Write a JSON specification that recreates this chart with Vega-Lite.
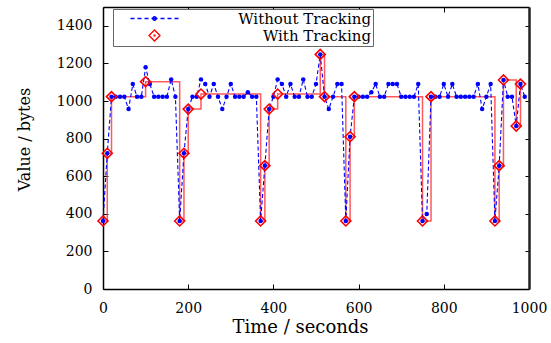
{
  "$schema": "https://vega.github.io/schema/vega-lite/v6.json",
  "width": 426,
  "height": 282,
  "autosize": "none",
  "padding": {"left": 103, "top": 7, "right": 22, "bottom": 54},
  "background": "white",
  "datasets": {
    "blue": [
      {"t":0,"v":362},{"t":10,"v":722},{"t":20,"v":1023},{"t":30,"v":1023},{"t":40,"v":1023},
      {"t":50,"v":1023},{"t":60,"v":957},{"t":70,"v":1090},{"t":80,"v":1023},{"t":90,"v":1023},
      {"t":100,"v":1179},{"t":110,"v":1090},{"t":120,"v":1023},{"t":130,"v":1023},{"t":140,"v":1023},
      {"t":150,"v":1023},{"t":160,"v":1115},{"t":170,"v":1023},{"t":180,"v":362},{"t":190,"v":722},
      {"t":200,"v":957},{"t":210,"v":1023},{"t":220,"v":1023},{"t":230,"v":1115},{"t":240,"v":1090},
      {"t":250,"v":1023},{"t":260,"v":1090},{"t":270,"v":1023},{"t":280,"v":957},{"t":290,"v":1023},
      {"t":300,"v":1090},{"t":310,"v":1023},{"t":320,"v":1023},{"t":330,"v":1023},{"t":340,"v":1046},
      {"t":350,"v":1023},{"t":360,"v":1023},{"t":370,"v":362},{"t":380,"v":656},{"t":390,"v":957},
      {"t":400,"v":1023},{"t":410,"v":1115},{"t":420,"v":1090},{"t":430,"v":1023},{"t":440,"v":1090},
      {"t":450,"v":1023},{"t":460,"v":1023},{"t":470,"v":1115},{"t":480,"v":1023},{"t":490,"v":1023},
      {"t":500,"v":1090},{"t":510,"v":1248},{"t":520,"v":1023},{"t":530,"v":957},{"t":540,"v":1023},
      {"t":550,"v":1090},{"t":560,"v":1090},{"t":570,"v":362},{"t":580,"v":810},{"t":590,"v":1023},
      {"t":600,"v":1023},{"t":610,"v":1023},{"t":620,"v":1023},{"t":630,"v":1046},{"t":640,"v":1090},
      {"t":650,"v":1023},{"t":660,"v":1023},{"t":670,"v":1090},{"t":680,"v":1090},{"t":690,"v":1090},
      {"t":700,"v":1023},{"t":710,"v":1023},{"t":720,"v":1023},{"t":730,"v":1023},{"t":740,"v":1090},
      {"t":750,"v":362},{"t":760,"v":399},{"t":770,"v":1023},{"t":780,"v":1023},{"t":790,"v":1023},
      {"t":800,"v":1090},{"t":810,"v":1023},{"t":820,"v":1090},{"t":830,"v":1023},{"t":840,"v":1023},
      {"t":850,"v":1023},{"t":860,"v":1023},{"t":870,"v":1023},{"t":880,"v":1090},{"t":890,"v":957},
      {"t":900,"v":1023},{"t":910,"v":1090},{"t":920,"v":362},{"t":930,"v":656},{"t":940,"v":1112},
      {"t":950,"v":1023},{"t":960,"v":1023},{"t":970,"v":867},{"t":980,"v":1090},{"t":990,"v":1023}
    ],
    "red": [
      {"t":0,"v":362,"s":"With Tracking"},{"t":10,"v":722,"s":"With Tracking"},{"t":20,"v":1023,"s":"With Tracking"},
      {"t":100,"v":1103,"s":"With Tracking"},{"t":180,"v":362,"s":"With Tracking"},{"t":190,"v":722,"s":"With Tracking"},
      {"t":200,"v":957,"s":"With Tracking"},{"t":230,"v":1037,"s":"With Tracking"},{"t":370,"v":362,"s":"With Tracking"},
      {"t":380,"v":656,"s":"With Tracking"},{"t":390,"v":957,"s":"With Tracking"},{"t":410,"v":1037,"s":"With Tracking"},
      {"t":510,"v":1248,"s":"With Tracking"},{"t":520,"v":1023,"s":"With Tracking"},{"t":570,"v":362,"s":"With Tracking"},
      {"t":580,"v":810,"s":"With Tracking"},{"t":590,"v":1023,"s":"With Tracking"},{"t":750,"v":362,"s":"With Tracking"},
      {"t":770,"v":1023,"s":"With Tracking"},{"t":920,"v":362,"s":"With Tracking"},{"t":930,"v":656,"s":"With Tracking"},
      {"t":940,"v":1112,"s":"With Tracking"},{"t":970,"v":867,"s":"With Tracking"},{"t":980,"v":1090,"s":"With Tracking"}
    ]
  },
  "layer": [
    {
      "data": {"name": "red"},
      "mark": {"type": "line", "interpolate": "step-after", "color": "#ff3030", "strokeWidth": 1.5, "opacity": 0.8},
      "encoding": {
        "x": {"field": "t", "type": "quantitative", "scale": {"domain": [0, 1000], "nice": false},
              "axis": {"orient": "bottom", "values": [0,200,400,600,800,1000], "format": "d", "labelFlush": false, "tickSize": -5, "labelPadding": 17,
                       "domainWidth": 1.5, "title": "Time / seconds", "titleFontSize": 18, "titleX": 197, "titleY": 43,
                       "titleBaseline": "alphabetic", "titleAlign": "center"}},
        "y": {"field": "v", "type": "quantitative", "scale": {"domain": [0, 1500], "nice": false},
              "axis": {"orient": "left", "values": [0,200,400,600,800,1000,1200,1400], "format": "d", "labelFlush": false, "tickSize": -5, "labelPadding": 16,
                       "domainWidth": 1.5, "title": "Value / bytes", "titleAngle": 270, "titleX": -79, "titleY": 132,
                       "titleBaseline": "middle", "titleAlign": "center"}}
      }
    },
    {
      "data": {"name": "blue"},
      "mark": {"type": "line", "color": "#0000ff", "strokeWidth": 1.1, "strokeDash": [4, 2.5]},
      "encoding": {
        "x": {"field": "t", "type": "quantitative",
              "axis": {"orient": "top", "values": [0,200,400,600,800,1000], "tickSize": -5, "labels": false,
                       "domainWidth": 1.5, "title": null}},
        "y": {"field": "v", "type": "quantitative",
              "axis": {"orient": "right", "values": [0,200,400,600,800,1000,1200,1400], "tickSize": -4, "labels": false,
                       "domainWidth": 2.5, "domainColor": "#222", "title": null}}
      }
    },
    {
      "data": {"name": "blue"},
      "mark": {"type": "point", "shape": "circle", "filled": true, "color": "#0000ff", "size": 20, "opacity": 1},
      "encoding": {
        "x": {"field": "t", "type": "quantitative", "axis": null},
        "y": {"field": "v", "type": "quantitative", "axis": null}
      }
    },
    {
      "data": {"name": "red"},
      "mark": {"type": "point", "shape": "diamond", "filled": false, "color": "#ff0000", "size": 100, "strokeWidth": 1.6, "opacity": 1},
      "encoding": {
        "x": {"field": "t", "type": "quantitative", "axis": null},
        "y": {"field": "v", "type": "quantitative", "axis": null}
      }
    },
    {
      "data": {"name": "red"},
      "mark": {"type": "point", "filled": false, "size": 100, "strokeWidth": 1.3, "opacity": 0},
      "encoding": {
        "x": {"field": "t", "type": "quantitative", "axis": null},
        "y": {"field": "v", "type": "quantitative", "axis": null},
        "color": {
          "field": "s", "type": "nominal",
          "scale": {"domain": ["Without Tracking", "With Tracking"], "range": ["#0000ff", "#ff0000"]},
          "legend": {
            "title": null,
            "orient": "none",
            "legendX": 10,
            "legendY": 2,
            "direction": "vertical",
            "padding": 2,
            "rowPadding": 0,
            "symbolSize": 100,
            "symbolOffset": 32,
            "symbolOpacity": 1,
            "symbolStrokeWidth": 1.3,
            "labelAlign": "right",
            "labelOffset": 209,
            "labelFont": "DejaVu Serif",
            "labelFontSize": 15,
            "labelColor": "#000",
            "labelLimit": 400,
            "strokeColor": "#666666",
            "fillColor": "white"
          }
        },
        "shape": {
          "field": "s", "type": "nominal",
          "scale": {"domain": ["Without Tracking", "With Tracking"],
                    "range": ["M-7.4,0L-7.4,0M-4.8,0H-4M-3.4,0H-2.6M-2,0H-1.2M-0.6,0H0.6M1.2,0H2M2.6,0H3.4M4,0H4.8M-0.35,0A0.35,0.35 0 1,0 0.35,0A0.35,0.35 0 1,0 -0.35,0Z",
                              "M-7.4,0L-7.4,0M-1.1,0L0,-1.1L1.1,0L0,1.1ZM-0.08,-0.08H0.08V0.08H-0.08Z"]},
          "legend": {
            "title": null,
            "orient": "none",
            "legendX": 10,
            "legendY": 2,
            "direction": "vertical",
            "padding": 2,
            "rowPadding": 0,
            "symbolSize": 100,
            "symbolOffset": 32,
            "symbolOpacity": 1,
            "symbolStrokeWidth": 1.3,
            "labelAlign": "right",
            "labelOffset": 209,
            "labelFont": "DejaVu Serif",
            "labelFontSize": 15,
            "labelColor": "#000",
            "labelLimit": 400,
            "strokeColor": "#666666",
            "fillColor": "white"
          }
        }
      }
    }
  ],
  "config": {
    "view": {"stroke": null},
    "axis": {
      "grid": false,
      "labelFont": "DejaVu Serif", "labelFontSize": 14, "labelColor": "#000",
      "titleFont": "DejaVu Serif", "titleFontSize": 16, "titleFontWeight": "normal", "titleColor": "#000",
      "domainColor": "#000", "tickColor": "#000", "tickWidth": 1
    }
  }
}
